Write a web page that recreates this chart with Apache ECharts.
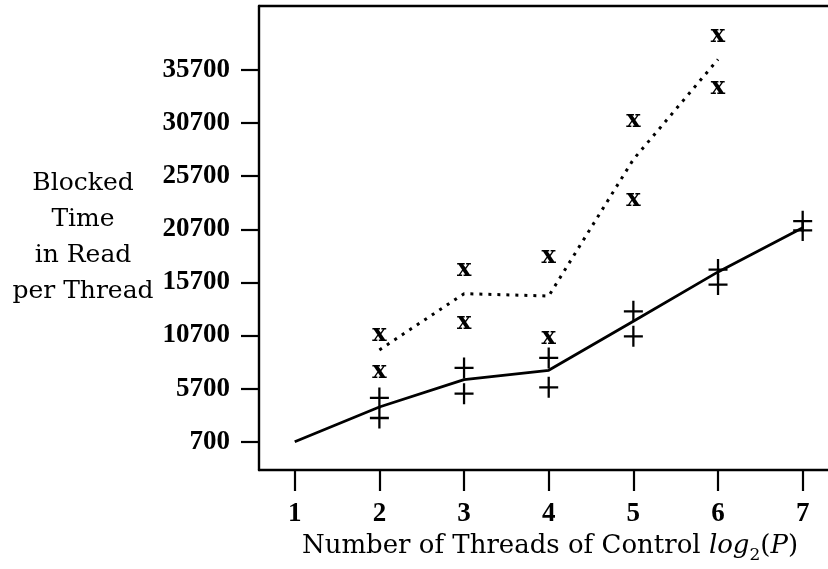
<!DOCTYPE html>
<html>
<head>
<meta charset="utf-8">
<script src="https://cdn.jsdelivr.net/npm/echarts@6/dist/echarts.min.js"></script>
<style>
html,body{margin:0;padding:0;background:#fff;}
#chart{width:828px;height:569px;}
</style>
</head>
<body>
<div id="chart"></div>
<script>
// ---- data ----
var threads    = [1, 2, 3, 4, 5, 6, 7];
var solidMean  = [700, 3970, 6540, 7420, 12040, 16690, 20840];
var dottedMean = [null, 9340, 14640, 14420, 27280, 36700, null];
var plusHigh   = [null, 4820, 7645, 8590, 12980, 16910, 21460];
var plusLow    = [null, 2930, 5220, 5820, 10620, 15500, 20590];
var xHigh      = [null, 10780, 16910, 18110, 30890, 38900, null];
var xLow       = [null, 7330, 11940, 10470, 23510, 34030, null];
var xTicks     = [1, 2, 3, 4, 5, 6, 7];
var yTicks     = [700, 5700, 10700, 15700, 20700, 25700, 30700, 35700];
var xTitle     = ['Number of Threads of Control ', 'log', '2', '(', 'P', ')'];
var yTitle     = ['Blocked', 'Time', 'in Read', 'per Thread'];

function pairs(xs, ys) {
  var out = [];
  for (var i = 0; i < xs.length; i++) if (ys[i] != null) out.push([xs[i], ys[i]]);
  return out;
}
var plusData = pairs(threads, plusHigh).concat(pairs(threads, plusLow));
var xData = pairs(threads, xHigh).concat(pairs(threads, xLow));

var chart = echarts.init(document.getElementById('chart'), null, {renderer: 'canvas'});
var black = '#000';
var plusPath = 'path://M8.8,0H11.2V9.8H20V12.2H11.2V22H8.8V12.2H0V9.8H8.8Z';

var option = {
  backgroundColor: '#fff',
  animation: false,
  grid: {left: 259, top: 6, right: 0, bottom: 99, containLabel: false},
  xAxis: [{
    type: 'value', min: 0.578, max: 7.299, position: 'bottom',
    axisLine: {show: true, onZero: false, lineStyle: {color: black, width: 2.4}},
    axisTick: {show: true, customValues: xTicks, length: 21, inside: false, lineStyle: {color: black, width: 2.2}},
    axisLabel: {show: true, customValues: xTicks, margin: 31, color: black,
      fontFamily: 'Liberation Serif', fontWeight: 'bold', fontSize: 27,
      formatter: function (v) { return String(v); }},
    splitLine: {show: false}
  }, {
    type: 'value', min: 0.578, max: 7.299, position: 'top',
    axisLine: {show: true, onZero: false, lineStyle: {color: black, width: 2.4}},
    axisTick: {show: false}, axisLabel: {show: false}, splitLine: {show: false}
  }],
  yAxis: {
    type: 'value', min: -1965, max: 41726,
    axisLine: {show: true, onZero: false, lineStyle: {color: black, width: 2.4}},
    axisTick: {show: true, customValues: yTicks, length: 18, inside: false, lineStyle: {color: black, width: 2.2}},
    axisLabel: {show: true, customValues: yTicks, margin: 29, color: black,
      fontFamily: 'Liberation Serif', fontWeight: 'bold', fontSize: 27,
      formatter: function (v) { return String(v); }},
    splitLine: {show: false}
  },
  series: [{
    type: 'line', data: pairs(threads, solidMean), showSymbol: false, symbol: 'none',
    lineStyle: {color: black, width: 2.8}, z: 3
  }, {
    type: 'line', data: pairs(threads, dottedMean), showSymbol: false, symbol: 'none',
    lineStyle: {color: black, width: 3, type: [3, 6], cap: 'butt'}, z: 3
  }, {
    type: 'scatter', data: plusData, symbol: plusPath, symbolSize: [19, 21],
    itemStyle: {color: black, opacity: 1}, z: 4
  }, {
    type: 'scatter', data: xData, symbol: 'circle', symbolSize: 1,
    itemStyle: {color: 'rgba(0,0,0,0)', opacity: 1},
    label: {show: true, position: 'inside', formatter: 'x', color: black, opacity: 1,
      fontFamily: 'DejaVu Serif', fontWeight: 'bold', fontSize: 24, offset: [0, 0]},
    z: 4
  }],
  graphic: [{
    type: 'text', x: 550, y: 533,
    style: {
      text: '{n|' + xTitle[0] + '}{i|' + xTitle[1] + '}{s|' + xTitle[2] + '}{n|' + xTitle[3] + '}{i|' + xTitle[4] + '}{n|' + xTitle[5] + '}',
      align: 'center', verticalAlign: 'top',
      rich: {
        n: {fontFamily: 'DejaVu Serif', fontSize: 26, lineHeight: 30, verticalAlign: 'top', fill: black, color: black},
        i: {fontFamily: 'DejaVu Serif', fontStyle: 'italic', fontSize: 26, lineHeight: 30, verticalAlign: 'top', fill: black, color: black},
        s: {fontFamily: 'DejaVu Serif', fontSize: 17, lineHeight: 17, padding: [14, 0, 0, 0], verticalAlign: 'top', fill: black, color: black}
      }
    }
  }, {
    type: 'text', x: 83, y: 165,
    style: {
      text: yTitle.join('\n'), align: 'center', verticalAlign: 'top',
      font: '25px "DejaVu Serif"', lineHeight: 36, fill: black
    }
  }]
};
chart.setOption(option);
</script>
</body>
</html>
